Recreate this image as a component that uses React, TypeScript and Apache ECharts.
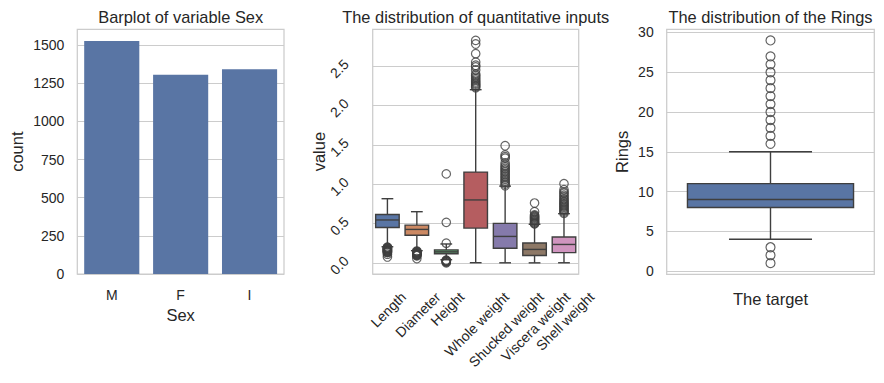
import React, { useEffect, useRef } from 'react';
import * as echarts from 'echarts';

const FONT = '"Liberation Sans", Arial, Helvetica, sans-serif';
const TEXT = '#262626';
const EDGE = '#3f3f3f';
const GRIDC = '#cccccc';

const sexCategories = ['M', 'F', 'I'];
const sexCounts = [1528, 1307, 1342];

const quantCategories = ['Length', 'Diameter', 'Height', 'Whole weight', 'Shucked weight', 'Viscera weight', 'Shell weight'];
const quantColors = ['#5975a4', '#cc8963', '#5f9e6e', '#b55d60', '#857aab', '#8d7866', '#d095bf'];
const quantLowWhisker = [0.205, 0.155, 0.04, 0.002, 0.001, 0.0005, 0.0015];
const quantQ1 = [0.45, 0.35, 0.115, 0.4415, 0.186, 0.0935, 0.13];
const quantMedian = [0.545, 0.425, 0.14, 0.7995, 0.336, 0.171, 0.234];
const quantQ3 = [0.615, 0.48, 0.165, 1.153, 0.502, 0.253, 0.329];
const quantHighWhisker = [0.815, 0.65, 0.24, 2.2, 0.975, 0.49, 0.625];

const lengthOutliers = [0.075, 0.11, 0.13, 0.135, 0.14, 0.145, 0.15, 0.155, 0.16, 0.165, 0.17, 0.175, 0.18, 0.185, 0.19, 0.195, 0.2];
const diameterOutliers = [0.055, 0.09, 0.095, 0.1, 0.105, 0.11, 0.115, 0.12, 0.125, 0.13, 0.135, 0.14, 0.145, 0.15];
const heightOutliers = [0, 0.01, 0.015, 0.02, 0.025, 0.03, 0.035, 0.25, 0.515, 1.13];
const wholeOutliers = [2.225, 2.24, 2.255, 2.27, 2.285, 2.3, 2.32, 2.34, 2.36, 2.38, 2.4, 2.45, 2.49, 2.51, 2.55, 2.657, 2.78, 2.8255];
const shuckedOutliers = [0.98, 1.0, 1.02, 1.04, 1.06, 1.08, 1.1, 1.12, 1.14, 1.16, 1.18, 1.2, 1.22, 1.24, 1.27, 1.33, 1.35, 1.37, 1.488];
const visceraOutliers = [0.495, 0.5, 0.51, 0.52, 0.53, 0.54, 0.55, 0.56, 0.57, 0.58, 0.59, 0.6, 0.61, 0.65, 0.76];
const shellOutliers = [0.63, 0.645, 0.66, 0.675, 0.69, 0.705, 0.72, 0.735, 0.75, 0.765, 0.78, 0.8, 0.815, 0.84, 0.86, 0.885, 0.9, 0.93, 1.005];
const quantOutliers = [lengthOutliers, diameterOutliers, heightOutliers, wholeOutliers, shuckedOutliers, visceraOutliers, shellOutliers];

const ringsCategories = [''];
const ringsStats = [4, 8, 9, 11, 15];
const ringsOutliers = [1, 2, 3, 16, 17, 18, 19, 20, 21, 22, 23, 24, 25, 26, 27, 29];
const ringsColor = '#5975a4';
const barColor = '#5975a4';

function textWidth(s: string, font: string): number {
  const c = document.createElement('canvas').getContext('2d');
  if (!c) return s.length * 7;
  c.font = font;
  return c.measureText(s).width;
}

function isMultiple(v: number, step: number) {
  const r = v / step;
  return Math.abs(r - Math.round(r)) < 1e-6;
}

function boxRenderer(colors: string[]) {
  return (params: any, api: any) => {
    const i = api.value(0);
    const lo = api.coord([i, api.value(1)]);
    const q1 = api.coord([i, api.value(2)]);
    const md = api.coord([i, api.value(3)]);
    const q3 = api.coord([i, api.value(4)]);
    const hi = api.coord([i, api.value(5)]);
    const bw = api.size([1, 0])[0] * 0.8;
    const x = lo[0];
    const ls = { stroke: EDGE, lineWidth: 1.4, fill: null };
    return {
      type: 'group',
      children: [
        { type: 'line', shape: { x1: x, y1: q1[1], x2: x, y2: lo[1] }, style: ls },
        { type: 'line', shape: { x1: x, y1: q3[1], x2: x, y2: hi[1] }, style: ls },
        { type: 'line', shape: { x1: x - bw / 4, y1: lo[1], x2: x + bw / 4, y2: lo[1] }, style: ls },
        { type: 'line', shape: { x1: x - bw / 4, y1: hi[1], x2: x + bw / 4, y2: hi[1] }, style: ls },
        {
          type: 'rect',
          shape: { x: x - bw / 2, y: q3[1], width: bw, height: q1[1] - q3[1] },
          style: { fill: colors[i], stroke: EDGE, lineWidth: 1.4 },
        },
        { type: 'line', shape: { x1: x - bw / 2, y1: md[1], x2: x + bw / 2, y2: md[1] }, style: ls },
      ],
    };
  };
}

const flierStyle = { color: 'rgba(0,0,0,0)', borderColor: EDGE, borderWidth: 1.2 };

export default function App() {
  const ref = useRef<HTMLDivElement>(null);
  useEffect(() => {
    document.body.style.margin = '0';
    if (!ref.current) return;
    const chart = echarts.init(ref.current, undefined, { renderer: 'svg' });

    const tickFont = 14;
    const labelFont = 16.5;
    const measureFont = `${tickFont}px "Liberation Sans"`;
    const tickStyle = { fontSize: tickFont, color: TEXT, fontFamily: FONT };
    const lineH = 16;

    // matplotlib-style rotated labels: bbox centred under the tick, top just below the axis
    const quantAxisData = quantCategories.map((c) => {
      const w = textWidth(c, measureFont);
      const q = 0.25 * (w + 13);
      const padTop = Math.max(0, q - lineH / 2);
      const padRight = 2 * q - 3;
      return {
        value: c,
        textStyle: { ...tickStyle, lineHeight: lineH, align: 'center', verticalAlign: 'top', padding: [padTop, padRight, 0, 0] },
      };
    });

    const grids = [
      { left: 77.3, top: 29.3, width: 206.7, height: 244.7 },
      { left: 372.7, top: 29.3, width: 206, height: 244.7 },
      { left: 666.7, top: 29.3, width: 207.6, height: 245 },
    ].map((g) => ({ ...g, show: true, borderColor: GRIDC, borderWidth: 1.25, backgroundColor: '#ffffff', containLabel: false, outerBoundsMode: 'none' }));

    const nameStyle = { fontSize: labelFont, color: TEXT, fontFamily: FONT, lineHeight: 20 };

    const quantBoxData = quantCategories.map((_, i) => [i, quantLowWhisker[i], quantQ1[i], quantMedian[i], quantQ3[i], quantHighWhisker[i]]);
    const quantFlierData: number[][] = [];
    quantOutliers.forEach((arr, i) => arr.forEach((v) => quantFlierData.push([i, v])));

    const option: any = {
      animation: false,
      backgroundColor: '#ffffff',
      textStyle: { fontFamily: FONT, color: TEXT },
      title: [
        { text: 'Barplot of variable Sex', left: 180.7 },
        { text: 'The distribution of quantitative inputs', left: 475.7 },
        { text: 'The distribution of the Rings', left: 770.5 },
      ].map((t) => ({
        ...t,
        textAlign: 'center',
        top: 7,
        padding: 0,
        textStyle: { fontSize: 16.4, fontWeight: 'normal', color: TEXT, fontFamily: FONT, lineHeight: 20 },
      })),
      grid: grids,
      xAxis: [
        {
          type: 'category',
          gridIndex: 0,
          data: sexCategories,
          name: 'Sex',
          nameLocation: 'middle',
          nameGap: 31,
          nameMoveOverlap: false,
          nameTextStyle: nameStyle,
          axisLine: { show: false },
          axisTick: { show: false },
          axisLabel: { ...tickStyle, margin: 12, lineHeight: 18 },
          splitLine: { show: false },
        },
        {
          type: 'category',
          gridIndex: 1,
          data: quantAxisData,
          axisLine: { show: false },
          axisTick: { show: false },
          axisLabel: { ...tickStyle, interval: 0, rotate: 45, align: 'center', verticalAlign: 'top', margin: 17, hideOverlap: false },
          splitLine: { show: false },
        },
        {
          type: 'category',
          gridIndex: 2,
          data: ringsCategories,
          name: 'The target',
          nameLocation: 'middle',
          nameGap: 15,
          nameMoveOverlap: false,
          nameTextStyle: nameStyle,
          axisLine: { show: false },
          axisTick: { show: false },
          axisLabel: { show: false },
          splitLine: { show: false },
        },
      ],
      yAxis: [
        {
          type: 'value',
          gridIndex: 0,
          min: 0,
          max: 1604.4,
          interval: 250,
          name: 'count',
          nameLocation: 'middle',
          nameGap: 50.7,
          nameMoveOverlap: false,
          nameTextStyle: nameStyle,
          axisLine: { show: false },
          axisTick: { show: false },
          axisLabel: { ...tickStyle, margin: 13, formatter: (v: number) => (isMultiple(v, 250) ? String(v) : '') },
          splitLine: { show: true, lineStyle: { color: GRIDC, width: 1 } },
        },
        {
          type: 'value',
          gridIndex: 1,
          min: -0.14128,
          max: 2.96678,
          splitNumber: 5,
          name: 'value',
          nameLocation: 'middle',
          nameGap: 43.6,
          nameMoveOverlap: false,
          nameTextStyle: nameStyle,
          axisLine: { show: false },
          axisTick: { show: false },
          axisLabel: {
            ...tickStyle,
            rotate: 45,
            align: 'center',
            verticalAlign: 'middle',
            margin: 31,
            padding: [7, 7, 0, 0],
            formatter: (v: number) => (isMultiple(v, 0.5) ? v.toFixed(1) : ''),
          },
          splitLine: { show: true, lineStyle: { color: GRIDC, width: 1 } },
        },
        {
          type: 'value',
          gridIndex: 2,
          min: -0.4,
          max: 30.4,
          splitNumber: 5,
          name: 'Rings',
          nameLocation: 'middle',
          nameGap: 35.1,
          nameMoveOverlap: false,
          nameTextStyle: nameStyle,
          axisLine: { show: false },
          axisTick: { show: false },
          axisLabel: { ...tickStyle, margin: 13, formatter: (v: number) => (isMultiple(v, 5) ? String(Math.round(v)) : '') },
          splitLine: { show: true, lineStyle: { color: GRIDC, width: 1 } },
        },
      ],
      series: [
        {
          type: 'bar',
          xAxisIndex: 0,
          yAxisIndex: 0,
          data: sexCounts,
          barCategoryGap: '20%',
          itemStyle: { color: barColor },
        },
        {
          type: 'custom',
          xAxisIndex: 1,
          yAxisIndex: 1,
          data: quantBoxData,
          renderItem: boxRenderer(quantColors),
          encode: { x: 0, y: [1, 2, 3, 4, 5] },
          z: 3,
        },
        {
          type: 'scatter',
          xAxisIndex: 1,
          yAxisIndex: 1,
          data: quantFlierData,
          symbol: 'circle',
          symbolSize: 8.5,
          itemStyle: flierStyle,
          z: 4,
        },
        {
          type: 'custom',
          xAxisIndex: 2,
          yAxisIndex: 2,
          data: [[0, ...ringsStats]],
          renderItem: boxRenderer([ringsColor]),
          encode: { x: 0, y: [1, 2, 3, 4, 5] },
          z: 3,
        },
        {
          type: 'scatter',
          xAxisIndex: 2,
          yAxisIndex: 2,
          data: ringsOutliers.map((v) => [0, v]),
          symbol: 'circle',
          symbolSize: 9,
          itemStyle: flierStyle,
          z: 4,
        },
      ],
    };
    chart.setOption(option);
    return () => chart.dispose();
  }, []);
  return <div ref={ref} style={{ width: 884, height: 383 }} />;
}
